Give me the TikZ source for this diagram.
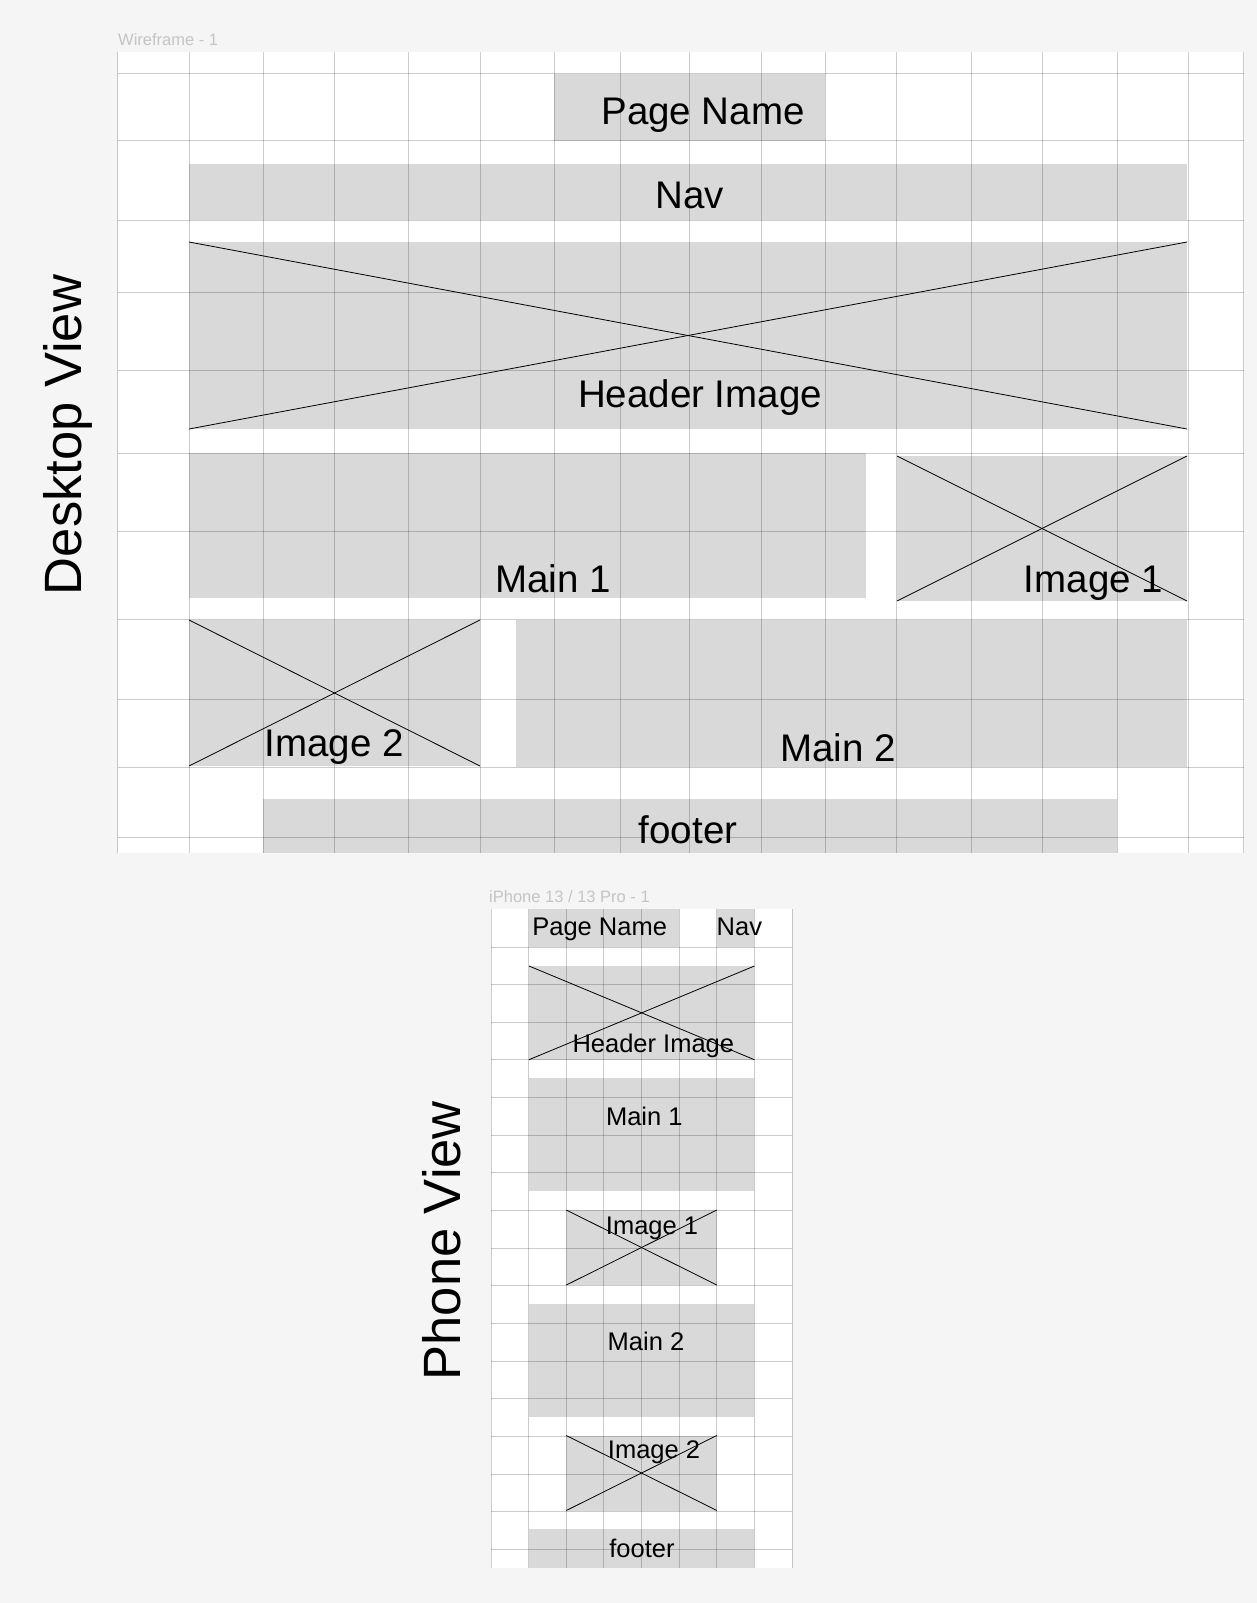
\documentclass[tikz,border=0pt]{standalone}
\usepackage{fontspec}
\setmainfont{Liberation Sans}
\usepackage{tikz}
\usetikzlibrary{fit}
\definecolor{canvasbg}{RGB}{245,245,245}
\definecolor{boxfill}{RGB}{217,217,217}
\definecolor{framelabel}{RGB}{196,196,196}
\tikzset{
    wfbox/.style={fill=boxfill, inner sep=0pt, outer sep=0pt},
    wfframe/.style={fill=white, inner sep=0pt, outer sep=0pt},
    gridline/.style={draw=black, opacity=0.2, line width=0.9pt},
    xline/.style={draw=black, line width=0.8pt},
    biglabel/.style={font=\fontsize{38.5}{40}\selectfont, anchor=base, inner sep=0pt},
    smalllabel/.style={font=\fontsize{25.5}{27}\selectfont, anchor=base, inner sep=0pt},
    framename/.style={font=\fontsize{16.5}{18}\selectfont, text=framelabel, anchor=base west, inner sep=0pt},
    viewlabel/.style={font=\fontsize{52.5}{55}\selectfont, rotate=90, anchor=base, inner sep=0pt}
}

\begin{document}
\begin{tikzpicture}[x=1pt, y=-1pt]
            \fill[canvasbg] (0,0) rectangle (1257,1603);
            \useasboundingbox (0,0) rectangle (1257,1603);

            % desktop wireframe
            \begin{scope}
                \node[wfframe, fit={(117.5,51.7) (1243.5,853)}] (dframe) {};
                \node[framename] (dname) at (118,46) {Wireframe - 1};
                \node[viewlabel] (dview) at (81,435) {Desktop View};

                \node[wfbox, fit={(554,73.5) (825.4,140.5)}] (dpage) {};
                \node[wfbox, fit={(189,164) (1187,220)}] (dnav) {};
                \node[wfbox, fit={(189,242) (1187,429)}] (dhead) {};
                \node[wfbox, fit={(189,453) (865.5,598)}] (dmaina) {};
                \node[wfbox, fit={(897,456) (1187,601)}] (dimga) {};
                \node[wfbox, fit={(189,620) (480,766)}] (dimgb) {};
                \node[wfbox, fit={(516,620) (1187,767)}] (dmainb) {};
                \node[wfbox, fit={(263,799) (1117,853)}] (dfoot) {};

                \foreach \b in {dhead, dimga, dimgb} {
                    \draw[xline] (\b.north west) -- (\b.south east);
                    \draw[xline] (\b.south west) -- (\b.north east);
                }

                \node[biglabel] (dpage-l) at (703,124) {Page Name};
                \node[biglabel] (dnav-l) at (690,208) {Nav};
                \node[biglabel] (dhead-l) at (700,407) {Header Image};
                \node[biglabel] (dmaina-l) at (553,592) {Main 1};
                \node[biglabel] (dimga-l) at (1093.5,592) {Image 1};
                \node[biglabel] (dimgb-l) at (334,756.7) {Image 2};
                \node[biglabel] (dmainb-l) at (838,761) {Main 2};
                \node[biglabel] (dfoot-l) at (688,843) {footer};

                \foreach \gx in {117.5,189,263,334,408,480,554,620.5,689.5,761.5,825.4,896.6,971.3,1042.2,1117.3,1188,1243.5}
                    \draw[gridline] (\gx,51.7) -- (\gx,853);
                \foreach \gy in {73.5,140.5,220,292,370.5,453,531.5,619.5,699,767,837.5}
                    \draw[gridline] (117.5,\gy) -- (1243.5,\gy);
            \end{scope}

            % phone wireframe
            \begin{scope}
                \node[wfframe, fit={(491,909.3) (792,1568.3)}] (pframe) {};
                \node[framename] (pname) at (489,902) {iPhone 13 / 13 Pro - 1};
                \node[viewlabel] (pview) at (460,1240.7) {Phone View};

                \node[wfbox, fit={(529,909.3) (679,947)}] (ppage) {};
                \node[wfbox, fit={(716.8,909.3) (754.4,947)}] (pnav) {};
                \node[wfbox, fit={(529,966) (754.4,1059.7)}] (phead) {};
                \node[wfbox, fit={(529,1078.3) (754.4,1190.6)}] (pmaina) {};
                \node[wfbox, fit={(566.3,1210) (716.8,1285)}] (pimga) {};
                \node[wfbox, fit={(529,1304) (754.4,1416.7)}] (pmainb) {};
                \node[wfbox, fit={(566.3,1435.5) (716.8,1510.5)}] (pimgb) {};
                \node[wfbox, fit={(529,1529) (754.4,1568.3)}] (pfoot) {};

                \foreach \b in {phead, pimga, pimgb} {
                    \draw[xline] (\b.north west) -- (\b.south east);
                    \draw[xline] (\b.south west) -- (\b.north east);
                }

                \node[smalllabel] (ppage-l) at (599.7,935.7) {Page Name};
                \node[smalllabel] (pnav-l) at (739.4,935.5) {Nav};
                \node[smalllabel] (phead-l) at (653.3,1052.7) {Header Image};
                \node[smalllabel] (pmaina-l) at (644.3,1125) {Main 1};
                \node[smalllabel] (pimga-l) at (652,1234) {Image 1};
                \node[smalllabel] (pmainb-l) at (646,1350) {Main 2};
                \node[smalllabel] (pimgb-l) at (654,1458.3) {Image 2};
                \node[smalllabel] (pfoot-l) at (642,1557.3) {footer};

                \foreach \k in {0,...,8}
                    \draw[gridline] (491+37.625*\k,909.3) -- (491+37.625*\k,1568.3);
                \foreach \k in {1,...,17}
                    \draw[gridline] (491,909.3+37.65*\k) -- (792,909.3+37.65*\k);
            \end{scope}
        \end{tikzpicture}
\end{document}
